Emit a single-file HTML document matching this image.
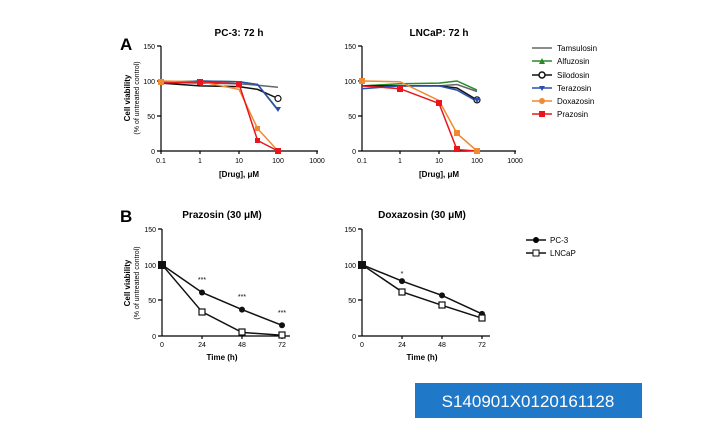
<!DOCTYPE html><html><head><meta charset="utf-8"><style>body{margin:0;background:#fff}svg{display:block;font-family:"Liberation Sans",Arial,sans-serif}</style></head><body>
<svg width="701" height="448" viewBox="0 0 701 448">
<g font-size="7" fill="#000">
<!-- A left -->
<text x="120" y="50" font-size="17" font-weight="bold">A</text>
<text x="239" y="36" font-size="10" font-weight="bold" text-anchor="middle">PC-3: 72 h</text>
<path d="M161,46V151H318M157,46H161M157,81H161M157,116H161M157,151H161M200,151v3M239,151v3M278,151v3M317,151v3M161,151v3" stroke="#000" stroke-width="1.2" fill="none"/>
<text x="155" y="49" text-anchor="end">150</text><text x="155" y="84" text-anchor="end">100</text><text x="155" y="119" text-anchor="end">50</text><text x="155" y="154" text-anchor="end">0</text>
<text x="161" y="163" text-anchor="middle">0.1</text><text x="200" y="163" text-anchor="middle">1</text><text x="239" y="163" text-anchor="middle">10</text><text x="278" y="163" text-anchor="middle">100</text><text x="317" y="163" text-anchor="middle">1000</text>
<text x="239" y="177" font-size="8" font-weight="bold" text-anchor="middle">[Drug], μM</text>
<text transform="translate(130,98) rotate(-90)" font-size="8" font-weight="bold" text-anchor="middle">Cell viability</text>
<text transform="translate(139,98) rotate(-90)" font-size="7" text-anchor="middle">(% of untreated control)</text>
<!-- A right -->
<text x="439" y="36" font-size="10" font-weight="bold" text-anchor="middle">LNCaP: 72 h</text>
<path d="M362,46V151H516M358,46H362M358,81H362M358,116H362M358,151H362M400,151v3M439,151v3M477,151v3M515,151v3" stroke="#000" stroke-width="1.2" fill="none"/>
<text x="356" y="49" text-anchor="end">150</text><text x="356" y="84" text-anchor="end">100</text><text x="356" y="119" text-anchor="end">50</text><text x="356" y="154" text-anchor="end">0</text>
<text x="362" y="163" text-anchor="middle">0.1</text><text x="400" y="163" text-anchor="middle">1</text><text x="439" y="163" text-anchor="middle">10</text><text x="477" y="163" text-anchor="middle">100</text><text x="515" y="163" text-anchor="middle">1000</text>
<text x="439" y="177" font-size="8" font-weight="bold" text-anchor="middle">[Drug], μM</text>
</g>
<g fill="none" stroke-width="1.5">
<polyline stroke="#666" points="161,82.4 200,83.1 239,83.8 257.6,85.2 278,87.3"/>
<polyline stroke="#2a8a2a" points="161,82.4 200,81 239,81.7 257.6,84.5 278,110.4"/>
<polyline stroke="#111" points="161,83.1 200,85.9 239,86.6 257.6,89.4 278,98.5"/>
<polyline stroke="#2a4fb0" points="161,82.4 200,81 239,81.7 257.6,84.5 278,109.7"/>
<polyline stroke="#f08a30" points="161,81 200,81.7 239,89.4 257.6,128.6 278,151"/>
<polyline stroke="#e8161c" points="161,83.1 200,81.7 239,83.8 257.6,140.5 278,151"/>
<polyline stroke="#666" points="362,85.9 400,85.9 439,85.9 457,84.5 477,91.5"/>
<polyline stroke="#2a8a2a" points="362,85.9 400,83.8 439,83.1 457,81 477,90.1"/>
<polyline stroke="#111" points="362,85.9 400,85.9 439,85.9 457,88 477,99.9"/>
<polyline stroke="#2a4fb0" points="362,88.7 400,85.9 439,85.9 457,90.1 477,101.3"/>
<polyline stroke="#f08a30" points="362,81 400,81.7 439,100.6 457,133.5 477,151"/>
<polyline stroke="#e8161c" points="362,85.9 400,88.7 439,103.4 457,149.6 477,151"/>
</g>
<g>
<circle cx="278" cy="98.5" r="3" fill="#fff" stroke="#111" stroke-width="1.2"/>
<circle cx="477" cy="99.9" r="3" fill="#fff" stroke="#111" stroke-width="1.2"/>
<rect x="255" y="126" width="5" height="5" fill="#f08a30"/><rect x="255" y="138" width="5" height="5" fill="#e8161c"/><rect x="275" y="148" width="6" height="6" fill="#e8161c"/>
<rect x="158" y="79" width="6" height="6" fill="#f08a30"/><rect x="197" y="79" width="6" height="6" fill="#e8161c"/><rect x="236" y="81" width="6" height="6" fill="#e8161c"/>
<rect x="436" y="100" width="6" height="6" fill="#e8161c"/><rect x="454" y="146" width="6" height="6" fill="#e8161c"/><rect x="474" y="148" width="6" height="6" fill="#f08a30"/><rect x="454" y="130" width="6" height="6" fill="#f08a30"/><rect x="397" y="86" width="6" height="6" fill="#e8161c"/><rect x="359" y="78" width="6" height="6" fill="#f08a30"/>
<path d="M275,107l3,5 3,-5zM474,98l3,5 3,-5z" fill="#2a4fb0"/>
</g>
<!-- legend A -->
<g font-size="8" stroke-width="1.5">
<line x1="532" y1="48" x2="552" y2="48" stroke="#666"/><text x="557" y="51">Tamsulosin</text>
<line x1="532" y1="61" x2="552" y2="61" stroke="#2a8a2a"/><path d="M539,64l3,-6 3,6z" fill="#2a8a2a"/><text x="557" y="64">Alfuzosin</text>
<line x1="532" y1="75" x2="552" y2="75" stroke="#111"/><circle cx="542" cy="75" r="3" fill="#fff" stroke="#111"/><text x="557" y="78">Silodosin</text>
<line x1="532" y1="88" x2="552" y2="88" stroke="#2a4fb0"/><path d="M539,86l3,5 3,-5z" fill="#2a4fb0"/><text x="557" y="91">Terazosin</text>
<line x1="532" y1="101" x2="552" y2="101" stroke="#f08a30"/><circle cx="542" cy="101" r="3" fill="#f08a30"/><text x="557" y="104">Doxazosin</text>
<line x1="532" y1="114" x2="552" y2="114" stroke="#e8161c"/><rect x="539" y="111" width="6" height="6" fill="#e8161c"/><text x="557" y="117">Prazosin</text>
</g>
<!-- B -->
<g font-size="7">
<text x="120" y="222" font-size="17" font-weight="bold">B</text>
<text x="222" y="218" font-size="10" font-weight="bold" text-anchor="middle">Prazosin (30 μM)</text>
<path d="M162,229V336H290M158,229H162M158,265H162M158,300H162M158,336H162M202,336v3M242,336v3M282,336v3" stroke="#000" stroke-width="1.2" fill="none"/>
<text x="156" y="232" text-anchor="end">150</text><text x="156" y="268" text-anchor="end">100</text><text x="156" y="303" text-anchor="end">50</text><text x="156" y="339" text-anchor="end">0</text>
<text x="162" y="347" text-anchor="middle">0</text><text x="202" y="347" text-anchor="middle">24</text><text x="242" y="347" text-anchor="middle">48</text><text x="282" y="347" text-anchor="middle">72</text>
<text x="222" y="360" font-size="8" font-weight="bold" text-anchor="middle">Time (h)</text>
<text transform="translate(130,283) rotate(-90)" font-size="8" font-weight="bold" text-anchor="middle">Cell viability</text>
<text transform="translate(139,283) rotate(-90)" font-size="7" text-anchor="middle">(% of untreated control)</text>
<text x="202" y="282" text-anchor="middle">***</text><text x="242" y="299" text-anchor="middle">***</text><text x="282" y="315" text-anchor="middle">***</text>
<text x="422" y="218" font-size="10" font-weight="bold" text-anchor="middle">Doxazosin (30 μM)</text>
<path d="M362,229V336H490M358,229H362M358,265H362M358,300H362M358,336H362M402,336v3M442,336v3M482,336v3" stroke="#000" stroke-width="1.2" fill="none"/>
<text x="356" y="232" text-anchor="end">150</text><text x="356" y="268" text-anchor="end">100</text><text x="356" y="303" text-anchor="end">50</text><text x="356" y="339" text-anchor="end">0</text>
<text x="362" y="347" text-anchor="middle">0</text><text x="402" y="347" text-anchor="middle">24</text><text x="442" y="347" text-anchor="middle">48</text><text x="482" y="347" text-anchor="middle">72</text>
<text x="422" y="360" font-size="8" font-weight="bold" text-anchor="middle">Time (h)</text>
<text x="402" y="276" text-anchor="middle">*</text>
</g>
<g fill="none" stroke="#111" stroke-width="1.5">
<polyline points="162,264.7 202,292.5 242,309.6 282,325.3"/>
<polyline points="162,264.7 202,311.8 242,332.4 282,335.3"/>
<polyline points="362,264.7 402,281.1 442,295.4 482,313.9"/>
<polyline points="362,264.7 402,291.8 442,305.3 482,318.2"/>
</g>
<g fill="#111">
<circle cx="202" cy="292.5" r="3"/><circle cx="242" cy="309.6" r="3"/><circle cx="282" cy="325.3" r="3"/>
<circle cx="402" cy="281.1" r="3"/><circle cx="442" cy="295.4" r="3"/><circle cx="482" cy="313.9" r="3"/>
<rect x="158" y="261" width="8" height="8"/><rect x="358" y="261" width="8" height="8"/>
</g>
<g fill="#fff" stroke="#111" stroke-width="1.2">
<rect x="199" y="309" width="6" height="6"/><rect x="239" y="329" width="6" height="6"/><rect x="279" y="332" width="6" height="6"/>
<rect x="399" y="289" width="6" height="6"/><rect x="439" y="302" width="6" height="6"/><rect x="479" y="315" width="6" height="6"/>
</g>
<g font-size="8">
<line x1="526" y1="240" x2="546" y2="240" stroke="#111" stroke-width="1.5"/><circle cx="536" cy="240" r="3"/><text x="550" y="243">PC-3</text>
<line x1="526" y1="253" x2="546" y2="253" stroke="#111" stroke-width="1.5"/><rect x="533" y="250" width="6" height="6" fill="#fff" stroke="#111"/><text x="550" y="256">LNCaP</text>
</g>
<rect x="415" y="383" width="227" height="35" fill="#1f78c8"/>
<text x="528" y="407" font-size="17" fill="#fff" text-anchor="middle">S140901X0120161128</text>
</svg></body></html>
